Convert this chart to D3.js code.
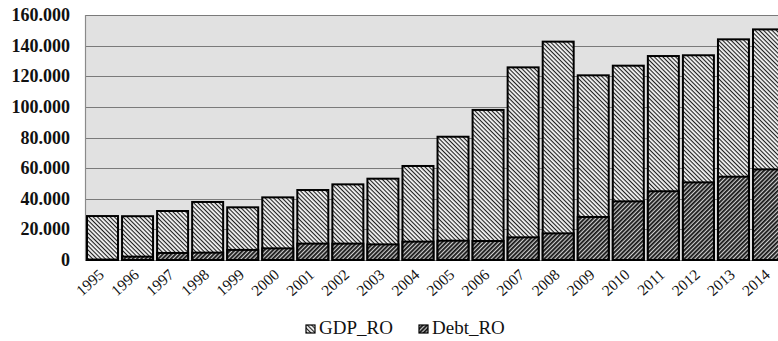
<!DOCTYPE html>
<html>
<head>
<meta charset="utf-8">
<script src="https://cdn.jsdelivr.net/npm/d3@7"></script>
<style>
  html, body { margin: 0; padding: 0; background: #fff; }
  svg { display: block; }
</style>
</head>
<body>
<svg id="chart" width="778" height="341"></svg>
<script>
// Romania: GDP and public debt (bn), 1995-2014
const years = ["1995","1996","1997","1998","1999","2000","2001","2002","2003","2004",
               "2005","2006","2007","2008","2009","2010","2011","2012","2013","2014"];
const gdpRO  = [28.7, 28.6, 32.0, 37.9, 34.4, 40.9, 45.7, 49.4, 53.1, 61.4,
                80.5, 98.0, 125.8, 142.6, 120.6, 126.9, 133.2, 133.7, 144.1, 150.6];
const debtRO = [0.3, 2.2, 4.6, 4.8, 6.6, 7.6, 10.7, 10.7, 10.2, 12.0,
                12.6, 12.4, 14.8, 17.4, 28.1, 38.3, 44.9, 50.7, 54.4, 59.2];
const yTicks = [0, 20, 40, 60, 80, 100, 120, 140, 160];
const seriesNames = ["GDP_RO", "Debt_RO"];

const FONT = "'Liberation Serif', 'Times New Roman', serif";
const svg = d3.select("#chart");
const plot = { left: 85, top: 15, bottom: 260, right: 786 };

const x = d3.scaleBand().domain(years).range([plot.left, plot.right])
  .paddingInner(0.116).paddingOuter(0.057);
const y = d3.scaleLinear().domain([0, 160]).range([plot.bottom, plot.top]);

// hatch fills: GDP light back-slash, debt dark forward-slash
const defs = svg.append("defs");
const pGdp = defs.append("pattern").attr("id", "hatchGdp")
  .attr("patternUnits", "userSpaceOnUse").attr("width", 3).attr("height", 3)
  .attr("patternTransform", "rotate(45)");
pGdp.append("rect").attr("width", 3).attr("height", 3).attr("fill", "#f4f4f4");
pGdp.append("rect").attr("width", 3).attr("height", 1.1).attr("fill", "#1e1e1e");

const pDebt = defs.append("pattern").attr("id", "hatchDebt")
  .attr("patternUnits", "userSpaceOnUse").attr("width", 3).attr("height", 3)
  .attr("patternTransform", "rotate(-45)");
pDebt.append("rect").attr("width", 3).attr("height", 3).attr("fill", "#cfcfcf");
pDebt.append("rect").attr("width", 3).attr("height", 1.8).attr("fill", "#151515");

// plot background
svg.append("rect")
  .attr("x", plot.left).attr("y", plot.top)
  .attr("width", plot.right - plot.left).attr("height", plot.bottom - plot.top)
  .attr("fill", "#e1e1e1");

// gridlines
svg.append("g").selectAll("line").data(yTicks).join("line")
  .attr("x1", plot.left).attr("x2", plot.right)
  .attr("y1", d => Math.round(y(d)) + 0.5).attr("y2", d => Math.round(y(d)) + 0.5)
  .attr("stroke", "#7a7a7a").attr("stroke-width", 1.2);

// left border of plot
svg.append("line")
  .attr("x1", plot.left + 0.5).attr("x2", plot.left + 0.5)
  .attr("y1", plot.top).attr("y2", plot.bottom)
  .attr("stroke", "#8a8a8a").attr("stroke-width", 1.2);

// y tick labels
svg.append("g").selectAll("text").data(yTicks).join("text")
  .attr("x", 70).attr("y", d => y(d) + 6)
  .attr("text-anchor", "end")
  .attr("font-family", FONT)
  .attr("font-size", 18).attr("font-weight", "bold").attr("fill", "#111")
  .text(d => d === 0 ? "0" : d + ".000");

// GDP bars, debt bars overlaid at full overlap
const bars = svg.append("g");
bars.selectAll("rect.gdp").data(years).join("rect").attr("class", "gdp")
  .attr("x", d => x(d)).attr("width", x.bandwidth())
  .attr("y", (d, i) => y(gdpRO[i])).attr("height", (d, i) => y(0) - y(gdpRO[i]))
  .attr("fill", "url(#hatchGdp)").attr("stroke", "#000").attr("stroke-width", 2);
bars.selectAll("rect.debt").data(years).join("rect").attr("class", "debt")
  .attr("x", d => x(d)).attr("width", x.bandwidth())
  .attr("y", (d, i) => y(debtRO[i])).attr("height", (d, i) => y(0) - y(debtRO[i]))
  .attr("fill", "url(#hatchDebt)").attr("stroke", "#000").attr("stroke-width", 2);

// x tick labels, rotated
svg.append("g").selectAll("text").data(years).join("text")
  .attr("transform", d => `translate(${x(d) + x.bandwidth() / 2 + 2.5},${plot.bottom + 16}) rotate(-42)`)
  .attr("text-anchor", "end")
  .attr("font-family", FONT)
  .attr("font-size", 15.5).attr("fill", "#111")
  .text(d => d);

// legend
const legend = svg.append("g").attr("font-family", FONT)
  .attr("font-size", 19).attr("fill", "#111");
const legendItems = [
  { name: seriesNames[0], fill: "url(#hatchGdp)", x: 306 },
  { name: seriesNames[1], fill: "url(#hatchDebt)", x: 419 }
];
legendItems.forEach(it => {
  legend.append("rect").attr("x", it.x).attr("y", 325).attr("width", 9).attr("height", 8)
    .attr("fill", it.fill).attr("stroke", "#000").attr("stroke-width", 1.2);
  legend.append("text").attr("x", it.x + 13).attr("y", 334).text(it.name);
});
</script>
</body>
</html>
